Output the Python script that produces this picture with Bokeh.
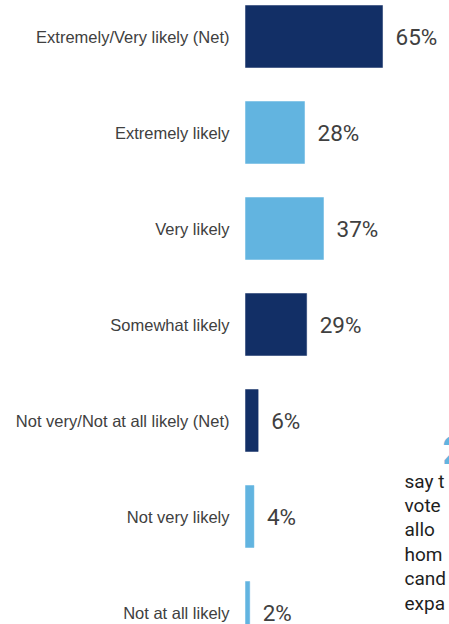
from bokeh.plotting import figure
from bokeh.models import ColumnDataSource, Range1d, Label
from bokeh.transform import factor_cmap
from bokeh.core.properties import value
from bokeh.embed import file_html
from bokeh.resources import INLINE

categories = [
    "Extremely/Very likely (Net)",
    "Extremely likely",
    "Very likely",
    "Somewhat likely",
    "Not very/Not at all likely (Net)",
    "Not very likely",
    "Not at all likely",
]
values = [65, 28, 37, 29, 6, 4, 2]
groups = ["primary", "secondary", "secondary", "primary", "primary", "secondary", "secondary"]
value_labels = [f"{v}%" for v in values]
# fragments of a neighbouring call-out that the crop cuts at the right edge
side_lines = ["say t", "vote", "allo", "hom", "cand", "expa"]

W, H = 449, 624
PX_PER = 2.108      # pixels per percentage point
X0 = 245            # pixel of zero
BAND = 96           # pixels per category
TOP = 36            # pixel of first category centre

src = ColumnDataSource(dict(
    cat=categories,
    pos=list(range(len(categories))),
    val=values,
    grp=groups,
    lab=value_labels,
    zero=[0] * len(categories),
))

p = figure(width=W, height=H, output_backend="svg", toolbar_location=None,
           x_range=Range1d(-X0 / PX_PER, (W - X0) / PX_PER),
           y_range=Range1d((H - TOP) / BAND, -TOP / BAND),
           min_border=0, outline_line_color=None)
p.axis.visible = False
p.grid.visible = False
p.background_fill_color = "white"
p.border_fill_color = "white"

cmap = factor_cmap("grp", palette=["#122F66", "#62B4E0"], factors=["primary", "secondary"])
p.hbar(y="pos", left=0, right="val", height=62 / BAND, source=src,
       fill_color=cmap, line_color=cmap, line_width=0.5)

p.text(x="zero", y="pos", text="cat", source=src, x_offset=-16,
       text_align="right", text_baseline="middle",
       text_font=value("Liberation Sans"), text_font_size="16.5px",
       text_color="#404040")

p.text(x="val", y="pos", text="lab", source=src, x_offset=13,
       text_align="left", text_baseline="middle",
       text_font=value("Roboto"), text_font_size="22.5px",
       text_color="#404040")

p.add_layout(Label(x=442, y=H - 463, x_units="screen", y_units="screen",
                   text="2", text_font="Roboto", text_font_size="38px",
                   text_font_style="bold", text_color="#62B4E0"))
for i, t in enumerate(side_lines):
    p.add_layout(Label(x=404, y=H - 492 - 24.4 * i, x_units="screen", y_units="screen",
                       text=t, text_font="Roboto", text_font_size="19px",
                       text_color="#1E1E1E"))

open("out.html", "w").write(file_html(p, INLINE))
